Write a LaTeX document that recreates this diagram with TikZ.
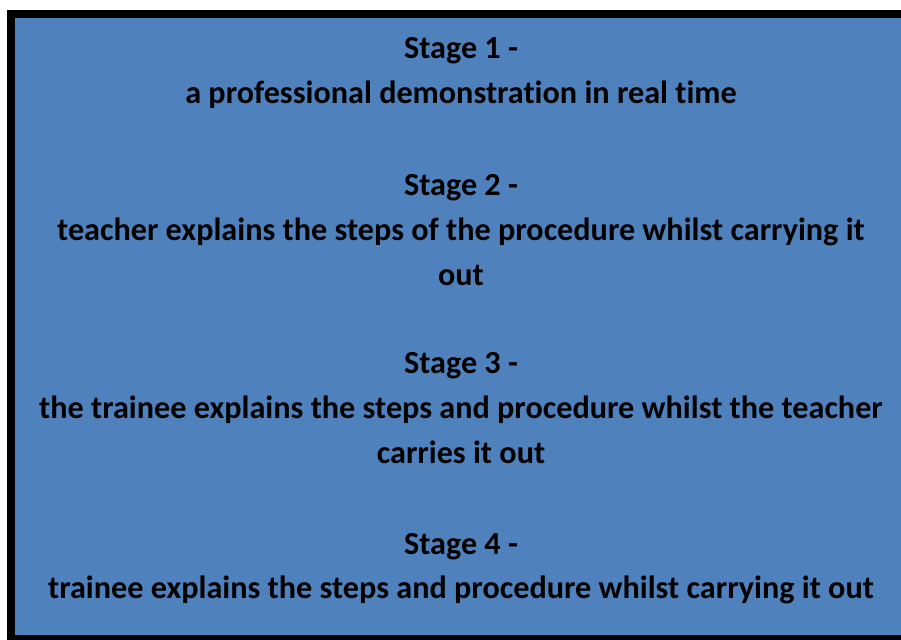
\documentclass[tikz,border=0pt]{standalone}
\usepackage{fontspec}
\setmainfont[Ligatures={NoCommon}]{Carlito}
\definecolor{boxblue}{HTML}{4F81BD}
\begin{document}
\begin{tikzpicture}[x=1pt,y=1pt,
  line/.style={anchor=base, inner sep=0pt, font=\fontsize{32.2}{38}\selectfont\bfseries, text=black}]
\useasboundingbox (0,0) rectangle (901,-639);
\begin{scope}
\clip (0,0) rectangle (901,-639);
\draw[line width=8pt, fill=boxblue, draw=black] (11,-14) rectangle (920,-639);
\end{scope}
\def\cx{461}
\node[line] (s1) at (\cx,-59) {Stage 1 -};
\node[line] (d1) at (\cx,-104) {a professional demonstration in real time};
\node[line] (s2) at (\cx,-195) {Stage 2 -};
\node[line] (d2a) at (\cx,-240) {teacher explains the steps of the procedure whilst carrying it};
\node[line] (d2b) at (\cx,-285) {out};
\node[line] (s3) at (\cx,-373.5) {Stage 3 -};
\node[line] (d3a) at (\cx,-418.5) {the trainee explains the steps and procedure whilst the teacher};
\node[line] (d3b) at (\cx,-463.5) {carries it out};
\node[line] (s4) at (\cx,-554) {Stage 4 -};
\node[line] (d4) at (\cx,-598.5) {trainee explains the steps and procedure whilst carrying it out};
\end{tikzpicture}
\end{document}
